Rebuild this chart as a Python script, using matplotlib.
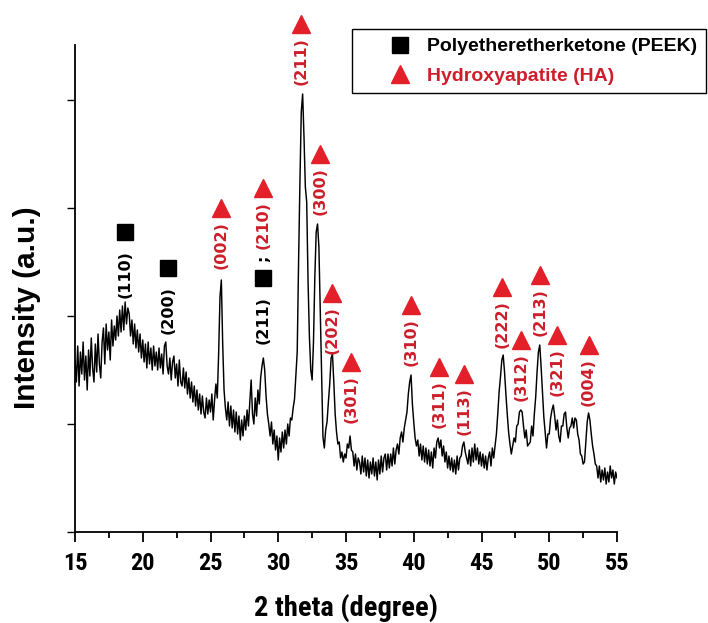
import matplotlib
matplotlib.use("Agg")
import matplotlib.pyplot as plt
from matplotlib import font_manager
from matplotlib.lines import Line2D
import numpy as np

# XRD scan of the PEEK/HA composite, 15-55 deg at 0.1 deg steps (a.u.)
intensity = [
    172, 150, 186, 146, 180, 158, 190, 152, 176, 142,   # 15
    182, 156, 194, 164, 150, 188, 160, 198, 168, 154,   # 16
    190, 204, 168, 208, 182, 200, 172, 212, 186, 206,   # 17
    192, 216, 196, 222, 200, 226, 202, 230, 208, 224,   # 18
    218, 196, 212, 188, 208, 184, 202, 180, 198, 174,   # 19
    192, 170, 188, 164, 190, 168, 184, 162, 186, 166,   # 20
    180, 162, 184, 164, 178, 158, 186, 190, 166, 158,   # 21
    174, 152, 170, 176, 154, 168, 146, 172, 150, 146,   # 22
    164, 144, 160, 138, 154, 134, 150, 130, 146, 126,   # 23
    142, 122, 138, 118, 136, 120, 114, 134, 118, 132,   # 24
    120, 138, 112, 132, 148, 134, 178, 235, 252, 188,   # 25
    142, 124, 112, 130, 106, 126, 104, 122, 100, 120,   # 26
    98, 116, 92, 112, 96, 116, 102, 122, 106, 130,      # 27
    152, 118, 108, 134, 116, 142, 128, 154, 166, 174,   # 28
    162, 136, 118, 108, 96, 110, 88, 102, 82, 96,       # 29
    72, 94, 80, 100, 84, 102, 88, 108, 96, 114,         # 30
    112, 124, 133, 157, 180, 270, 350, 420, 438, 395,   # 31
    345, 330, 250, 195, 162, 152, 190, 255, 300, 308,   # 32
    285, 220, 150, 95, 84, 102, 110, 130, 148, 174,     # 33
    178, 150, 118, 100, 88, 90, 74, 80, 70, 78,         # 34
    74, 88, 84, 96, 82, 80, 66, 78, 62, 74,             # 35
    70, 58, 76, 60, 74, 56, 72, 54, 70, 58,             # 36
    74, 56, 70, 52, 72, 58, 76, 60, 74, 78,             # 37
    62, 78, 64, 78, 66, 84, 68, 82, 88, 78,             # 38
    94, 100, 90, 104, 112, 120, 138, 150, 157, 128,     # 39
    110, 94, 86, 92, 76, 88, 72, 86, 70, 84,            # 40
    68, 82, 66, 80, 64, 84, 74, 90, 94, 84,             # 41
    92, 76, 86, 70, 80, 64, 76, 62, 74, 60,             # 42
    72, 58, 76, 62, 74, 76, 86, 90, 80, 74,             # 43
    68, 82, 66, 84, 70, 88, 72, 84, 68, 80,             # 44
    66, 78, 64, 76, 62, 74, 80, 66, 84, 74,             # 45
    86, 98, 118, 140, 155, 172, 177, 160, 138, 118,     # 46
    100, 88, 78, 86, 94, 90, 106, 108, 120, 122,        # 47
    120, 106, 94, 102, 86, 88, 90, 106, 96, 118,        # 48
    135, 160, 180, 187, 165, 140, 115, 100, 84, 98,     # 49
    98, 114, 122, 127, 116, 102, 112, 96, 90, 106,      # 50
    106, 118, 120, 104, 94, 104, 106, 114, 104, 114,    # 51
    112, 98, 92, 78, 76, 68, 70, 90, 110, 119,          # 52
    112, 98, 86, 78, 68, 66, 54, 66, 50, 62,            # 53
    52, 64, 48, 60, 50, 66, 54, 62, 48, 60,             # 54
    54,                                                 # 55
]
two_theta = np.linspace(15.0, 55.0, len(intensity))

# PEEK reflections
peek_hkl = ["(110)", "(200)", "(211)"]
peek_pos = [18.7, 21.9, 28.9]
peek_mark = [300, 264, 254]

# HA reflections
ha_hkl = ["(002)", "(210)", "(211)", "(300)", "(202)", "(301)", "(310)",
          "(311)", "(113)", "(222)", "(312)", "(213)", "(321)", "(004)"]
ha_pos = [25.8, 28.9, 31.7, 33.1, 34.0, 35.4, 39.8,
          41.9, 43.7, 46.5, 47.9, 49.3, 50.6, 52.9]
ha_mark = [324, 344, 508, 378, 239, 170, 227,
           165, 158, 245, 192, 257, 197, 187]


def pick_font(*names):
    for name in names:
        try:
            font_manager.findfont(font_manager.FontProperties(family=name),
                                  fallback_to_default=False)
            return name
        except ValueError:
            continue
    return "DejaVu Sans"


SANS = pick_font("Liberation Sans", "Arimo", "Arial", "Nimbus Sans", "Helvetica")
NARROW = pick_font("Liberation Sans Narrow", "Arial Narrow", "Roboto Condensed",
                   "PT Sans Narrow")

RED = "#e3202a"
RED_TXT = "#cc1f2b"
label_font = dict(family="DejaVu Sans", weight="bold", size=11.5)

fig = plt.figure(figsize=(7.08, 6.23), dpi=100)
ax = fig.add_axes([75 / 708, 91 / 623, 542 / 708, 487 / 623])

ax.plot(two_theta, intensity, color="black", lw=1.05)

ax.plot(peek_pos, peek_mark, ls="", marker="s", ms=11.5, color="black", clip_on=False)
for hkl, x, y in zip(peek_hkl, peek_pos, peek_mark):
    ax.text(x, y - 42, hkl, rotation=90, ha="center", va="center",
            color="black", **label_font)

ax.plot(ha_pos, ha_mark, ls="", marker="^", ms=13, color=RED, clip_on=False)
for hkl, x, y in zip(ha_hkl, ha_pos, ha_mark):
    ax.text(x, y - 37, hkl, rotation=90, ha="center", va="center",
            color=RED_TXT, **label_font)
# separator between the coincident PEEK (211) and HA (210) lines
ax.text(peek_pos[2], 273, ";", rotation=90, ha="center", va="center",
        color="black", **label_font)

ax.set_xlim(15, 55)
ax.set_ylim(0, 487)
ax.set_xticks(np.arange(15, 56, 5))
ax.set_xticks(np.arange(17.5, 55, 5), minor=True)
ax.set_yticks([0, 108, 216, 324, 432])
ax.set_yticklabels([])

for side in ["top", "right"]:
    ax.spines[side].set_visible(False)
for side in ["left", "bottom"]:
    ax.spines[side].set_linewidth(1.3)

ax.tick_params(axis="x", which="major", direction="out", length=7.2, width=1.3, pad=7)
ax.tick_params(axis="x", which="minor", direction="out", length=4.3, width=1.3)
ax.tick_params(axis="y", direction="out", length=5.5, width=1.0)
for lab in ax.get_xticklabels():
    lab.set_fontfamily(NARROW)
    lab.set_fontweight("bold")
    lab.set_fontsize(17.5)

ax.set_xlabel("2 theta (degree)", family=NARROW, weight="bold", size=20.5, va="center")
ax.xaxis.set_label_coords(0.5, -0.155)
ax.set_ylabel("Intensity (a.u.)", family=SANS, weight="bold", size=21.5, va="center")
ax.yaxis.set_label_coords(-0.088, 0.46)

handles = [
    Line2D([], [], ls="", marker="s", ms=12, color="black"),
    Line2D([], [], ls="", marker="^", ms=13, color=RED),
]
leg = ax.legend(handles, ["Polyetheretherketone (PEEK)", "Hydroxyapatite (HA)"],
                loc="upper left", bbox_to_anchor=(352 / 708, 1 - 29 / 623),
                bbox_transform=fig.transFigure, borderaxespad=0,
                frameon=True, fancybox=False, edgecolor="black", framealpha=1,
                borderpad=0.45, handlelength=4.0, handletextpad=-0.6,
                labelspacing=0.6,
                prop=dict(family=SANS, weight="bold", size=14))
leg.get_frame().set_linewidth(1.0)
leg.get_texts()[1].set_color(RED_TXT)

fig.savefig("out.png", dpi=100)
